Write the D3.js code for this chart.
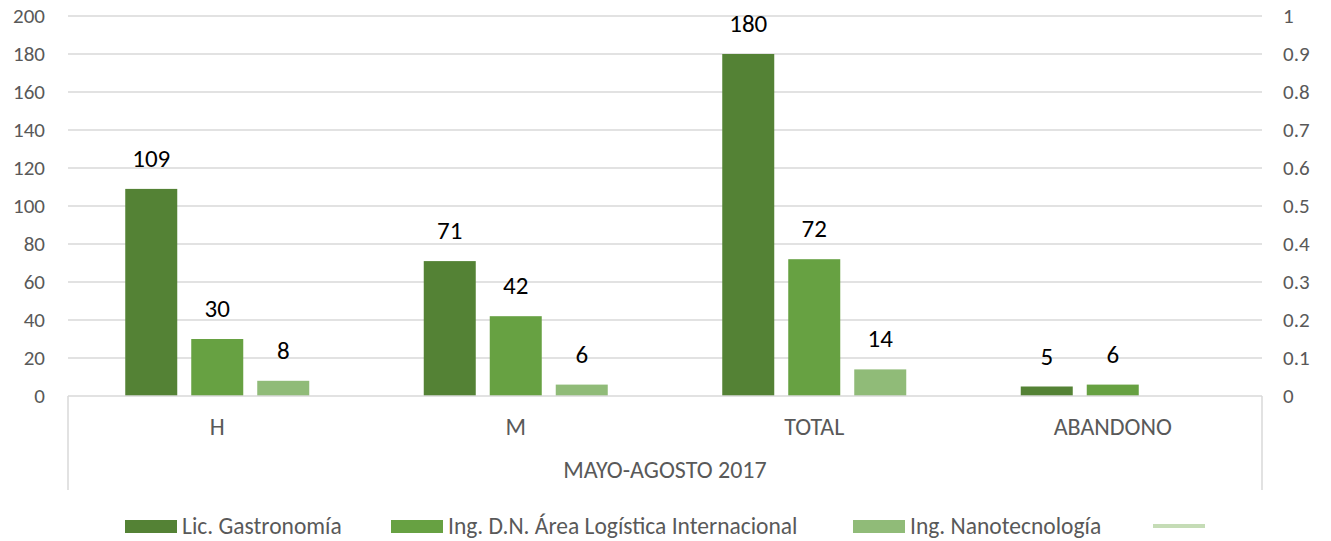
<!DOCTYPE html>
<html>
<head>
<meta charset="utf-8">
<script src="https://cdn.jsdelivr.net/npm/d3@7"></script>
<style>
  body { margin: 0; background: #fff; }
  svg { display: block; font-family: Carlito, Lato, "Open Sans", sans-serif; }
</style>
</head>
<body>
<div id="chart"></div>
<script>
const categories = ['H', 'M', 'TOTAL', 'ABANDONO']
const seriesNames = ['Lic. Gastronomía', 'Ing. D.N. Área Logística Internacional', 'Ing. Nanotecnología']
const gastronomia = [109, 71, 180, 5]
const logistica = [30, 42, 72, 6]
const nanotec = [8, 6, 14, null]
const leftTicks = [0, 20, 40, 60, 80, 100, 120, 140, 160, 180, 200]
const rightTicks = [0, 0.1, 0.2, 0.3, 0.4, 0.5, 0.6, 0.7, 0.8, 0.9, 1]
const groupLabel = 'MAYO-AGOSTO 2017'
const colours = ['#548235', '#67a142', '#90bb78']
const extraLegendColour = '#c5dcb6'

const width = 1331
const height = 541
const plot = { left: 68, right: 1262, top: 16, bottom: 396 }

const seriesValues = [gastronomia, logistica, nanotec]
const data = categories.map((c, i) => ({
  cat: c,
  values: seriesNames.map((s, j) => ({ series: s, idx: j, value: seriesValues[j][i] }))
}))

const svg = d3.select('#chart')
  .append('svg')
  .attr('width', width)
  .attr('height', height)

const y = d3.scaleLinear().domain([0, 200]).range([plot.bottom, plot.top])
const y2 = d3.scaleLinear().domain([0, 1]).range([plot.bottom, plot.top])

const x0 = d3.scaleBand()
  .domain(categories)
  .range([plot.left, plot.right])
  .padding(0)

// bars ~52px with 14px gaps, centred in each band
const groupW = 184
const x1 = d3.scaleBand()
  .domain(seriesNames)
  .range([(x0.bandwidth() - groupW) / 2, (x0.bandwidth() + groupW) / 2])
  .paddingInner(14 / 66)
  .paddingOuter(0)

// gridlines
svg.append('g')
  .selectAll('line')
  .data(leftTicks.filter(d => d > 0))
  .enter()
  .append('line')
  .attr('x1', plot.left)
  .attr('x2', plot.right)
  .attr('y1', d => y(d))
  .attr('y2', d => y(d))
  .style('stroke', '#d9d9d9')
  .style('stroke-width', 1.5)

// left axis
const leftAxis = svg.append('g')
  .attr('transform', `translate(${plot.left},0)`)
  .call(d3.axisLeft(y).tickValues(leftTicks).tickSize(0).tickPadding(23))
leftAxis.select('.domain').remove()
leftAxis.selectAll('text')
  .style('font-size', '21px')
  .style('fill', '#595959')
  .style('font-family', 'Carlito, Lato, sans-serif')

// right axis
const rightAxis = svg.append('g')
  .attr('transform', `translate(${plot.right},0)`)
  .call(d3.axisRight(y2).tickValues(rightTicks).tickSize(0).tickPadding(21)
    .tickFormat(d => d3.format('~g')(d)))
rightAxis.select('.domain').remove()
rightAxis.selectAll('text')
  .style('font-size', '21px')
  .style('fill', '#595959')
  .style('font-family', 'Carlito, Lato, sans-serif')

// bars
const groups = svg.append('g')
  .selectAll('g')
  .data(data)
  .enter()
  .append('g')
  .attr('transform', d => `translate(${x0(d.cat)},0)`)

groups.selectAll('rect')
  .data(d => d.values.filter(v => v.value != null))
  .enter()
  .append('rect')
  .attr('x', d => x1(d.series))
  .attr('y', d => y(d.value))
  .attr('width', x1.bandwidth())
  .attr('height', d => y(0) - y(d.value))
  .style('fill', d => colours[d.idx])

groups.selectAll('text')
  .data(d => d.values.filter(v => v.value != null))
  .enter()
  .append('text')
  .attr('x', d => x1(d.series) + x1.bandwidth() / 2)
  .attr('y', d => y(d.value) - 22)
  .attr('text-anchor', 'middle')
  .style('font-size', '25px')
  .style('fill', '#000')
  .text(d => d.value)

// x axis box (multi-level category axis)
const axisCol = '#d9d9d9'
svg.append('line')
  .attr('x1', plot.left).attr('x2', plot.right)
  .attr('y1', plot.bottom).attr('y2', plot.bottom)
  .style('stroke', axisCol).style('stroke-width', 1.5)
svg.append('line')
  .attr('x1', plot.left).attr('x2', plot.left)
  .attr('y1', plot.bottom).attr('y2', 490)
  .style('stroke', axisCol).style('stroke-width', 1.5)
svg.append('line')
  .attr('x1', plot.right).attr('x2', plot.right)
  .attr('y1', plot.bottom).attr('y2', 490)
  .style('stroke', axisCol).style('stroke-width', 1.5)

svg.append('g')
  .selectAll('text')
  .data(categories)
  .enter()
  .append('text')
  .attr('x', d => x0(d) + x0.bandwidth() / 2)
  .attr('y', 435)
  .attr('text-anchor', 'middle')
  .style('font-size', '24px')
  .style('fill', '#595959')
  .text(d => d)

svg.append('text')
  .attr('x', (plot.left + plot.right) / 2)
  .attr('y', 478)
  .attr('text-anchor', 'middle')
  .style('font-size', '24px')
  .style('fill', '#595959')
  .text(groupLabel)

// legend
const legendX = [125, 391, 853]
const legend = svg.append('g')
seriesNames.forEach((s, i) => {
  legend.append('rect')
    .attr('x', legendX[i])
    .attr('y', 520)
    .attr('width', 52)
    .attr('height', 13)
    .style('fill', colours[i])
  legend.append('text')
    .attr('x', legendX[i] + 57)
    .attr('y', 534)
    .style('font-size', '23.5px')
    .style('fill', '#595959')
    .text(s)
})
legend.append('line')
  .attr('x1', 1153).attr('x2', 1205)
  .attr('y1', 526).attr('y2', 526)
  .style('stroke', extraLegendColour)
  .style('stroke-width', 4)
</script>
</body>
</html>
